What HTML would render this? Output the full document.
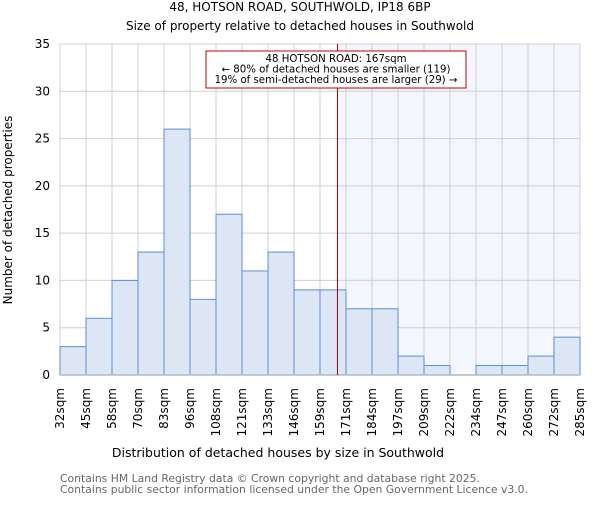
<!DOCTYPE html>
<html><head><meta charset="utf-8"><style>
body{margin:0;background:#fff}
svg{font-family:"DejaVu Sans","Liberation Sans",sans-serif}
</style></head><body>
<svg id="chart" width="600" height="500">
<text x="300" y="11" text-anchor="middle" font-size="12">48, HOTSON ROAD, SOUTHWOLD, IP18 6BP</text>
<text x="300" y="30" text-anchor="middle" font-size="12">Size of property relative to detached houses in Southwold</text>
<g id="plot"></g>
<text transform="translate(12,210) rotate(-90)" text-anchor="middle" font-size="12">Number of detached properties</text>
<text x="278" y="457" text-anchor="middle" font-size="12.5">Distribution of detached houses by size in Southwold</text>
<text x="60" y="482" font-size="10.8" fill="#666">Contains HM Land Registry data © Crown copyright and database right 2025.</text>
<text x="60" y="493" font-size="10.8" fill="#666">Contains public sector information licensed under the Open Government Licence v3.0.</text>
</svg>
<script>
const binLabels=["32sqm","45sqm","58sqm","70sqm","83sqm","96sqm","108sqm","121sqm","133sqm","146sqm","159sqm","171sqm","184sqm","197sqm","209sqm","222sqm","234sqm","247sqm","260sqm","272sqm","285sqm"];
const counts=[3,6,10,13,26,8,17,11,13,9,9,7,7,2,1,0,1,1,2,4];
const yTicks=[0,5,10,15,20,25,30,35];
const markerValue=167;
const binStart=32, binWidthSqm=12.65;
const X0=60,X1=580,Y0=375,Y1=44,YMAX=35;
const ns="http://www.w3.org/2000/svg";
const g=document.getElementById("plot");
const bw=(X1-X0)/counts.length;
const xb=i=>X0+i*bw;
const y=v=>Y0-(v/YMAX)*(Y0-Y1);
const xv=v=>X0+(v-binStart)/binWidthSqm*bw;
function mk(t,a){const e=document.createElementNS(ns,t);for(const k in a)e.setAttribute(k,a[k]);g.appendChild(e);return e;}
const mx=xv(markerValue);
let r=mk("rect",{x:mx,y:Y1,width:X1-mx,height:Y0-Y1,fill:"#f3f6fd"});


yTicks.forEach(t=>{
 let l=mk("line",{x1:X0,x2:X1,y1:y(t),y2:y(t),stroke:"#d0d0d0"});
 
 
 let tx=mk("text",{x:X0-10,y:y(t)+4,"text-anchor":"end","font-size":"12"});
 tx.textContent=t;
 
 
});
binLabels.forEach((s,i)=>{
 let l=mk("line",{x1:xb(i),x2:xb(i),y1:Y1,y2:Y0,stroke:"#d0d0d0"});
 
 
 let tx=mk("text",{transform:`translate(${xb(i)+4},388) rotate(-90)`,"text-anchor":"end","font-size":"12"});
 tx.textContent=s;
 
 
});
counts.forEach((c,i)=>{
 let b=mk("rect",{x:xb(i),y:y(c),width:bw,height:Y0-y(c),fill:"#dce6f4",stroke:"#5b8fd6","stroke-width":"1"});
 
 
});
let ax=mk("line",{x1:X0,x2:X1,y1:Y0,y2:Y0,stroke:"#b0b8c8","stroke-width":"1.5"});


let ml=mk("line",{x1:mx,x2:mx,y1:Y1,y2:Y0,stroke:"#a00000","stroke-width":"1"});


let box=mk("rect",{x:206,y:51,width:260,height:37,fill:"#fff",stroke:"#c00000","stroke-width":"1"});


["48 HOTSON ROAD: 167sqm","← 80% of detached houses are smaller (119)","19% of semi-detached houses are larger (29) →"].forEach((s,i)=>{
 let t=mk("text",{x:336,y:62+i*10.5,"text-anchor":"middle","font-size":"10.2"});
 t.textContent=s;
 
 
});
</script>
</body></html>
